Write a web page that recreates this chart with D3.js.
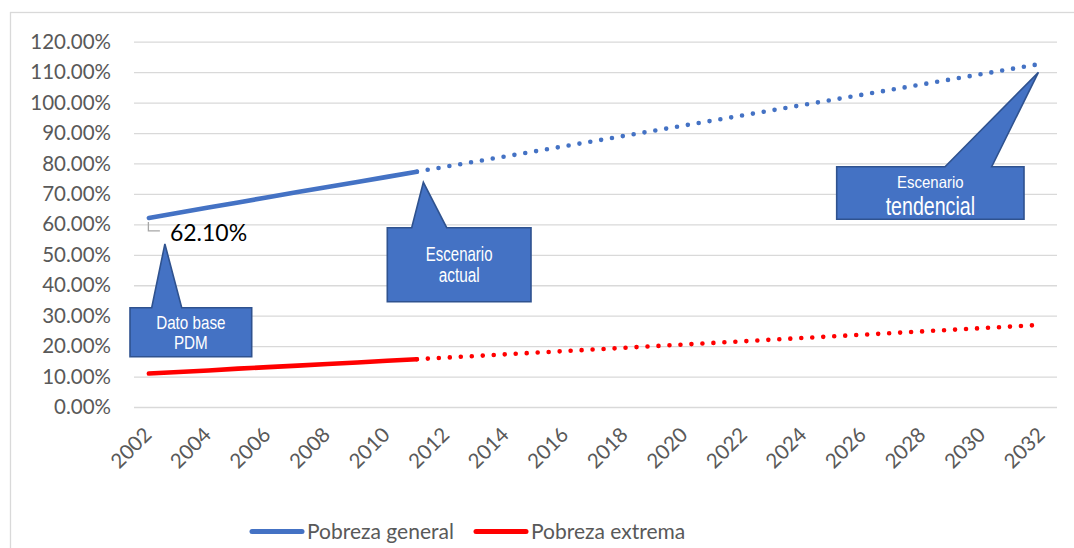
<!DOCTYPE html>
<html>
<head>
<meta charset="utf-8">
<script src="https://cdn.jsdelivr.net/npm/d3@7"></script>
<style>
  body { margin: 0; background: #fff; }
  svg { display: block; }
</style>
</head>
<body>
<svg id="chart" width="1074" height="548"></svg>
<script>
// Categories on the horizontal axis
const years = [2002, 2003, 2004, 2005, 2006, 2007, 2008, 2009, 2010, 2011,
               2012, 2013, 2014, 2015, 2016, 2017, 2018, 2019, 2020, 2021,
               2022, 2023, 2024, 2025, 2026, 2027, 2028, 2029, 2030, 2031, 2032];
const xTickLabels = ["2002", "2004", "2006", "2008", "2010", "2012", "2014", "2016",
                     "2018", "2020", "2022", "2024", "2026", "2028", "2030", "2032"];
const yTicks = [0, 10, 20, 30, 40, 50, 60, 70, 80, 90, 100, 110, 120];

// Observed series (percent)
const actualYears = [2002, 2003, 2004, 2005, 2006, 2007, 2008, 2009, 2010, 2011];
const pobrezaGeneral = [62.1, 63.8, 65.5, 67.2, 68.9, 70.6, 72.3, 73.9, 75.6, 77.3];
const pobrezaExtrema = [11.0, 11.5, 12.0, 12.6, 13.1, 13.6, 14.1, 14.6, 15.2, 15.7];

// Trend scenario (percent)
const trendYears = [2011, 2032];
const tendenciaGeneral = [77.3, 112.8];
const tendenciaExtrema = [15.7, 27.0];

const seriesNames = ["Pobreza general", "Pobreza extrema"];
const seriesColors = ["#4472C4", "#FF0000"];

const svg = d3.select("#chart");
const plot = { left: 134, right: 1057, top: 41.7, bottom: 407 };

const x = d3.scalePoint().domain(years).range([plot.left, plot.right]).padding(0.5);
const y = d3.scaleLinear().domain([0, 120]).range([plot.bottom, plot.top]);

// Chart frame
svg.append("rect")
  .attr("x", 10.5).attr("y", 12.5).attr("width", 1100).attr("height", 600)
  .attr("fill", "#fff").attr("stroke", "#d9d9d9").attr("stroke-width", 1.3);

// Value axis with gridlines
const yAxis = d3.axisLeft(y)
  .tickValues(yTicks)
  .tickSize(-(plot.right - plot.left))
  .tickPadding(23)
  .tickFormat(d => d.toFixed(2) + "%");
const gy = svg.append("g").attr("transform", `translate(${plot.left},0)`).call(yAxis);
gy.select(".domain").remove();
gy.selectAll(".tick line").attr("stroke", "#d9d9d9").attr("stroke-width", 1.3);
gy.selectAll(".tick text")
  .attr("fill", "#595959")
  .style("font-family", "Lato, 'Open Sans', sans-serif")
  .style("font-size", "20.5px");

// Category labels, rotated
svg.append("g").selectAll("text")
  .data(xTickLabels)
  .join("text")
  .attr("transform", d => `translate(${x(+d) + 4},436) rotate(-45)`)
  .attr("text-anchor", "end")
  .attr("fill", "#595959")
  .style("font-family", "Lato, 'Open Sans', sans-serif")
  .style("font-size", "20.5px")
  .text(d => d);

const line = d3.line().x(d => x(d[0])).y(d => y(d[1]));

// Dotted trend projections
[tendenciaGeneral, tendenciaExtrema].forEach((vals, i) => {
  svg.append("path")
    .attr("d", line(trendYears.map((yr, j) => [yr, vals[j]])))
    .attr("fill", "none")
    .attr("stroke", seriesColors[i])
    .attr("stroke-width", 4.6)
    .attr("stroke-linecap", "round")
    .attr("stroke-dasharray", "0 11");
});

// Solid observed lines
[pobrezaGeneral, pobrezaExtrema].forEach((vals, i) => {
  svg.append("path")
    .attr("d", line(actualYears.map((yr, j) => [yr, vals[j]])))
    .attr("fill", "none")
    .attr("stroke", seriesColors[i])
    .attr("stroke-width", 4.6)
    .attr("stroke-linecap", "round");
});

// Data label for the base value
const bx = x(actualYears[0]), by = y(pobrezaGeneral[0]);
svg.append("path")
  .attr("d", `M${bx - 0.5},${by + 4}V${by + 13}H${bx + 11}`)
  .attr("fill", "none").attr("stroke", "#a6a6a6").attr("stroke-width", 1.3);
svg.append("text")
  .attr("x", bx + 21).attr("y", by + 23.5)
  .attr("fill", "#000")
  .style("font-family", "Lato, 'Open Sans', sans-serif")
  .style("font-size", "23px")
  .text(pobrezaGeneral[0].toFixed(2) + "%");

// Callouts: box, wedge base on the top edge, tip, and text lines
const callouts = [
  { x0: 130, y0: 307.7, x1: 251.7, y1: 356.7, w0: 151.7, w1: 181.7,
    tip: [bx + 16, by + 26],
    lines: [{ t: "Dato base", dy: 329, size: 17.7, sx: 0.86 },
            { t: "PDM", dy: 349, size: 17.7, sx: 0.86 }] },
  { x0: 387.3, y0: 227.7, x1: 531, y1: 301.7, w0: 411.7, w1: 446.7,
    tip: [x(2011) + 6.5, y(77.3) + 10.6],
    lines: [{ t: "Escenario", dy: 261, size: 20, sx: 0.75 },
            { t: "actual", dy: 281.7, size: 20, sx: 0.77 }] },
  { x0: 836.7, y0: 166.7, x1: 1024, y1: 219.3, w0: 945, w1: 991.7,
    tip: [x(2032) - 3.7, y(112.8) + 8.7],
    lines: [{ t: "Escenario", dy: 187.7, size: 16.3, sx: 0.92 },
            { t: "tendencial", dy: 215, size: 26.5, sx: 0.74 }] }
];

callouts.forEach(c => {
  const p = d3.path();
  p.moveTo(c.x0, c.y0);
  p.lineTo(c.w0, c.y0);
  p.lineTo(c.tip[0], c.tip[1]);
  p.lineTo(c.w1, c.y0);
  p.lineTo(c.x1, c.y0);
  p.lineTo(c.x1, c.y1);
  p.lineTo(c.x0, c.y1);
  p.closePath();
  svg.append("path").attr("d", p.toString())
    .attr("fill", "#4472C4").attr("stroke", "#2F528F").attr("stroke-width", 1.6)
    .attr("stroke-linejoin", "miter");
  const cx = (c.x0 + c.x1) / 2;
  c.lines.forEach(l => {
    svg.append("text")
      .attr("transform", `translate(${cx},${l.dy}) scale(${l.sx},1)`)
      .attr("text-anchor", "middle")
      .attr("fill", "#fff")
      .style("font-family", "'Liberation Sans', Arial, sans-serif")
      .style("font-size", l.size + "px")
      .text(l.t);
  });
});

// Legend
const legendItems = [{ x: 252, tx: 307 }, { x: 476, tx: 531 }];
legendItems.forEach((it, i) => {
  svg.append("line")
    .attr("x1", it.x).attr("x2", it.x + 50)
    .attr("y1", 531.5).attr("y2", 531.5)
    .attr("stroke", seriesColors[i]).attr("stroke-width", 5)
    .attr("stroke-linecap", "round");
  svg.append("text")
    .attr("x", it.tx).attr("y", 539)
    .attr("fill", "#595959")
    .style("font-family", "Lato, 'Open Sans', sans-serif")
    .style("font-size", "21px")
    .text(seriesNames[i]);
});
</script>
</body>
</html>
